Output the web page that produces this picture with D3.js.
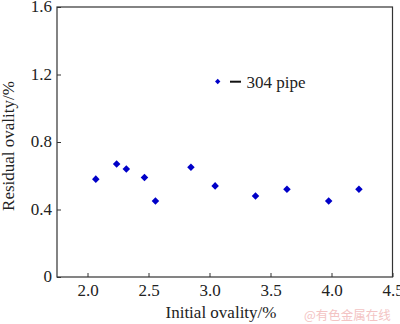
<!DOCTYPE html>
<html><head><meta charset="utf-8">
<script src="https://cdn.jsdelivr.net/npm/d3@7"></script>
<style>body{margin:0;background:#fff}svg{display:block}</style>
</head><body>
<svg id="c" width="400" height="324"></svg>
<script>
const initialOvality = [2.068, 2.239, 2.318, 2.467, 2.557, 2.848, 3.046, 3.377, 3.635, 3.977, 4.225];
const residualOvality = [0.58, 0.67, 0.64, 0.59, 0.45, 0.65, 0.54, 0.48, 0.52, 0.45, 0.52];
const xTicks = [2.0, 2.5, 3.0, 3.5, 4.0, 4.5];
const yTicks = [0, 0.4, 0.8, 1.2, 1.6];
const seriesName = "304 pipe";

const svg = d3.select("#c");
const L = 57, R = 392.5, T = 7, B = 277;
const x = d3.scaleLinear().domain([1.75, 4.5]).range([L, R]);
const y = d3.scaleLinear().domain([0, 1.6]).range([B, T]);
const font = "'Liberation Serif','Times New Roman',serif";
const col = "#0000c8";
const fs = 17;

svg.append("rect").attr("x", L).attr("y", T).attr("width", R - L).attr("height", B - T)
  .attr("fill", "none").attr("stroke", "#333").attr("stroke-width", 1.2);

const xa = svg.append("g").attr("transform", `translate(0,${B})`)
  .call(d3.axisBottom(x).tickValues(xTicks).tickSizeInner(-4).tickSizeOuter(0).tickPadding(7).tickFormat(d3.format(".1f")));
const ya = svg.append("g").attr("transform", `translate(${L},0)`)
  .call(d3.axisLeft(y).tickValues(yTicks).tickSizeInner(-4).tickSizeOuter(0).tickPadding(5).tickFormat(d => d === 0 ? "0" : d3.format(".1f")(d)));
[xa, ya].forEach(a => {
  a.select(".domain").remove();
  a.selectAll("line").attr("stroke", "#333");
  a.selectAll("text").attr("font-family", font).attr("font-size", fs).attr("fill", "#222");
});
ya.selectAll("text").attr("dy", "0.28em");

const sym = d3.symbol().type(d3.symbolDiamond2).size(36);
svg.append("g").selectAll("path").data(initialOvality).join("path")
  .attr("d", sym)
  .attr("transform", (d, i) => `translate(${x(d)},${y(residualOvality[i])})`)
  .attr("fill", col);

// legend
const lg = svg.append("g");
lg.append("path").attr("d", d3.symbol().type(d3.symbolDiamond2).size(18))
  .attr("transform", "translate(217.7,81.5)").attr("fill", col);
lg.append("line").attr("x1", 230).attr("x2", 241).attr("y1", 81.7).attr("y2", 81.7)
  .attr("stroke", "#111").attr("stroke-width", 2);
lg.append("text").attr("x", 246.5).attr("y", 87.5).attr("font-family", font)
  .attr("font-size", fs).attr("fill", "#222").text(seriesName);

svg.append("text").attr("x", 221).attr("y", 318).attr("text-anchor", "middle")
  .attr("font-family", font).attr("font-size", fs).attr("fill", "#222").text("Initial ovality/%");
svg.append("text").attr("transform", "translate(13.5,146) rotate(-90)").attr("text-anchor", "middle")
  .attr("font-family", font).attr("font-size", fs).attr("fill", "#222").text("Residual ovality/%");

svg.append("text").attr("x", 304).attr("y", 320).attr("font-family", "'Noto Sans CJK SC',sans-serif")
  .attr("font-size", 12.5).attr("fill", "#f3c4c4").text("@有色金属在线");
</script>
</body></html>
